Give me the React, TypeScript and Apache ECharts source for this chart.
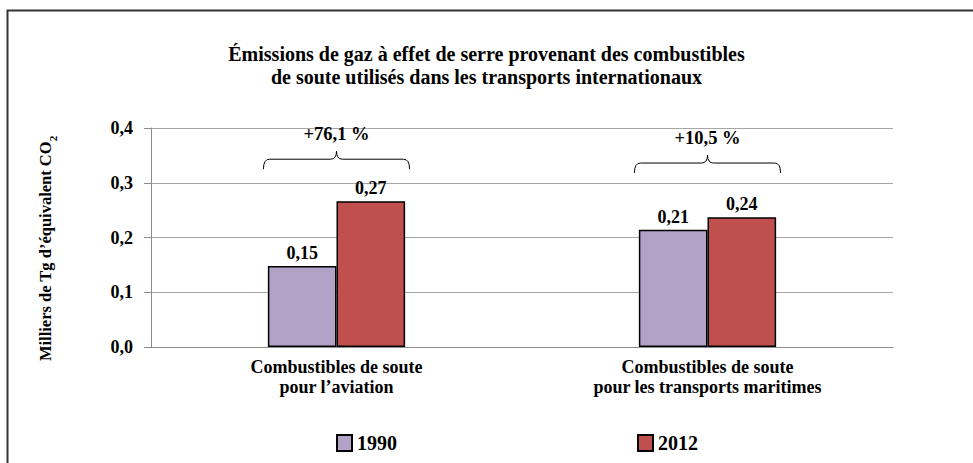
import React, { useEffect, useRef } from "react";
import * as echarts from "echarts";

const categories = ["Combustibles de soute\npour l’aviation", "Combustibles de soute\npour les transports maritimes"];
const seriesNames = ["1990", "2012"];
const values1990 = [0.148, 0.214];
const values2012 = [0.266, 0.237];
const braceLevels = [0.343, 0.336];
const braceLabels = ["+76,1 %", "+10,5 %"];
const yTicks = [0, 0.1, 0.2, 0.3, 0.4];

const FONT = "Liberation Serif";

export default function App() {
  const ref = useRef<HTMLDivElement>(null);
  useEffect(() => {
    document.body.style.margin = "0";
    const chart = echarts.init(ref.current!, null, { renderer: "svg" });
    const fmt2 = (v: number) => v.toFixed(2).replace(".", ",");
    const braceData = braceLevels.map((lv, i) => [i, lv, braceLabels[i]]);
    chart.setOption({
      animation: false,
      backgroundColor: "#fff",
      textStyle: { fontFamily: FONT },
      title: {
        text: "Émissions de gaz à effet de serre provenant des combustibles\nde soute utilisés dans les transports internationaux",
        left: "center",
        top: 37,
        textStyle: { fontFamily: FONT, fontSize: 20, fontWeight: "bold", color: "#000", lineHeight: 23 },
      },
      graphic: [
        {
          type: "rect",
          shape: { x: 7.5, y: 10.5, width: 1000, height: 500 },
          style: { fill: "none", stroke: "#333", lineWidth: 2 },
          silent: true,
        },
      ],
      legend: [
        {
          data: [seriesNames[0]],
          left: 331,
          top: 428,
          icon: "rect",
          itemWidth: 15,
          itemHeight: 16,
          itemGap: 10,
          textStyle: { fontFamily: FONT, fontSize: 20, fontWeight: "bold", color: "#000" },
        },
        {
          data: [seriesNames[1]],
          left: 632,
          top: 428,
          icon: "rect",
          itemWidth: 15,
          itemHeight: 16,
          itemGap: 10,
          textStyle: { fontFamily: FONT, fontSize: 20, fontWeight: "bold", color: "#000" },
        },
      ],
      grid: { left: 151, right: 80, top: 128, bottom: 116 },
      xAxis: {
        type: "category",
        data: categories,
        axisLine: { lineStyle: { color: "#8c8c8c", width: 1 } },
        axisTick: { show: false },
        axisLabel: {
          fontFamily: FONT,
          fontSize: 18,
          fontWeight: "bold",
          color: "#000",
          lineHeight: 20,
          margin: 10,
          interval: 0,
        },
      },
      yAxis: {
        type: "value",
        min: yTicks[0],
        max: yTicks[yTicks.length - 1],
        interval: 0.1,
        name: "{a|Milliers de Tg d’équivalent CO}{s|2}",
        nameLocation: "middle",
        nameGap: 96,
        nameRotate: 90,
        nameTextStyle: {
          fontFamily: FONT,
          padding: [0, 22, 0, 0],
          rich: {
            a: { fontFamily: FONT, fontSize: 16.5, fontWeight: "bold", color: "#000", lineHeight: 20 },
            s: { fontFamily: FONT, fontSize: 11, fontWeight: "bold", color: "#000", lineHeight: 20, verticalAlign: "bottom", padding: [0, 0, -3, 0] },
          },
        },
        axisLine: { show: true, lineStyle: { color: "#8c8c8c", width: 1 } },
        axisTick: { show: true, length: 7, lineStyle: { color: "#8c8c8c" } },
        splitLine: { lineStyle: { color: "#a6a6a6", width: 1 } },
        axisLabel: {
          fontFamily: FONT,
          fontSize: 18,
          fontWeight: "bold",
          color: "#000",
          margin: 18,
          formatter: (v: number) => v.toFixed(1).replace(".", ","),
        },
      },
      series: [
        {
          name: seriesNames[0],
          type: "bar",
          data: values1990,
          barWidth: "18.5%",
          barGap: "0%",
          itemStyle: { color: "#B3A2C7", borderColor: "#000", borderWidth: 1.5 },
          label: {
            show: true,
            position: "top",
            distance: 4,
            fontFamily: FONT,
            fontSize: 18,
            fontWeight: "bold",
            color: "#000",
            formatter: (p: any) => fmt2(p.value),
          },
        },
        {
          name: seriesNames[1],
          type: "bar",
          data: values2012,
          barWidth: "18.5%",
          barGap: "0%",
          itemStyle: { color: "#C0504D", borderColor: "#000", borderWidth: 1.5 },
          label: {
            show: true,
            position: "top",
            distance: 4,
            fontFamily: FONT,
            fontSize: 18,
            fontWeight: "bold",
            color: "#000",
            formatter: (p: any) => fmt2(p.value),
          },
        },
        {
          name: "brace",
          type: "custom",
          data: braceData,
          silent: true,
          z: 5,
          renderItem: (params: any, api: any) => {
            const c = api.coord([api.value(0), api.value(1)]);
            const band = api.size([1, 0])[0];
            const hw = band * 0.197;
            const xc = c[0];
            const yH = c[1];
            const xL = xc - hw;
            const xR = xc + hw;
            const yT = yH + 10;
            const yP = yH - 8;
            const r = 6;
            const d =
              `M${xL},${yT} Q${xL},${yH} ${xL + r},${yH} L${xc - r},${yH} Q${xc},${yH} ${xc},${yP} ` +
              `Q${xc},${yH} ${xc + r},${yH} L${xR - r},${yH} Q${xR},${yH} ${xR},${yT}`;
            return {
              type: "group",
              children: [
                {
                  type: "path",
                  shape: { pathData: d },
                  style: { fill: "none", stroke: "#000", lineWidth: 1 },
                },
                {
                  type: "text",
                  x: xc,
                  y: yH - 25,
                  style: {
                    text: braceLabels[params.dataIndex],
                    fontFamily: FONT,
                    fontSize: 18.5,
                    fontWeight: "bold",
                    fill: "#000",
                    align: "center",
                    verticalAlign: "middle",
                  },
                },
              ],
            };
          },
        },
      ],
    });
    return () => chart.dispose();
  }, []);
  return <div ref={ref} style={{ width: 973, height: 463 }} />;
}
